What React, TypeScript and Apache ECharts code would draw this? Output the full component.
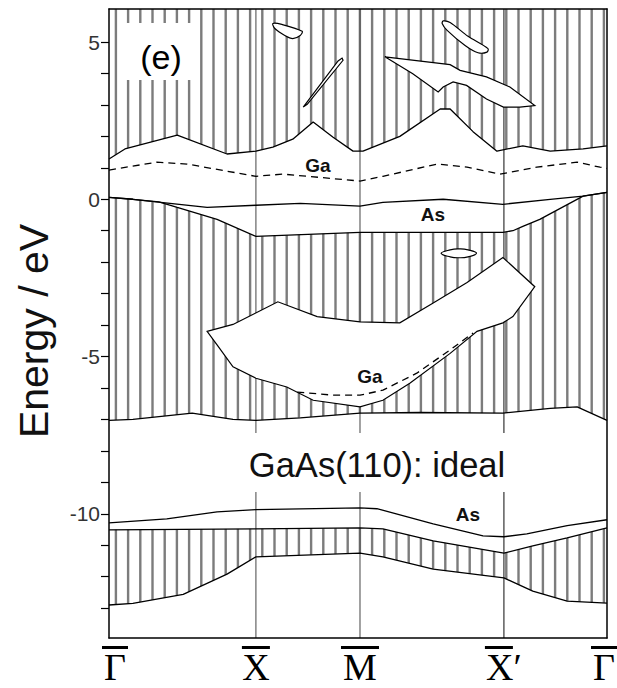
import { useEffect, useRef } from 'react';
import * as echarts from 'echarts';

// ---- axes ----
const Y_MIN = -13.95;
const Y_MAX = 6.05;
const kPoints = [0, 2.95, 5.04, 7.93, 10];
const kLabels = ['Γ', 'X', 'M', 'X′', 'Γ'];
const yTickValues = [-13, -12, -11, -10, -9, -8, -7, -6, -5, -4, -3, -2, -1, 0, 1, 2, 3, 4, 5];
const yLabelValues = [-10, -5, 0, 5];

// ---- projected bulk band edges ----
const cbBottom = [[0, 1.28], [0.32, 1.6], [1.37, 2.04], [2.37, 1.44], [2.95, 1.53], [3.29, 1.66], [3.69, 1.91], [4.10, 2.46], [4.50, 1.97], [4.90, 1.53], [5.10, 1.53], [5.84, 2.0], [6.65, 2.87], [6.85, 2.87], [7.31, 2.15], [7.79, 1.53], [8.31, 1.70], [8.86, 1.53], [9.52, 1.60], [10, 1.70]];
const vbTop = [[0, 0.06], [0.48, 0.0], [1.0, -0.08], [1.37, -0.26], [2.17, -0.64], [2.95, -1.18], [5.04, -1.05], [7.91, -1.05], [8.11, -1.0], [8.31, -0.86], [8.65, -0.64], [9.52, 0.10], [10, 0.22]];
const vbBottom = [[0, -7.03], [0.48, -7.0], [1.67, -6.8], [2.49, -7.0], [2.95, -7.03], [3.84, -6.95], [5.04, -6.8], [6.24, -6.78], [7.91, -6.8], [8.86, -6.65], [9.40, -6.6], [10, -7.03]];
const deepTop = [[0, -10.51], [2.95, -10.48], [5.04, -10.45], [5.50, -10.48], [6.51, -10.86], [7.93, -11.25], [8.51, -11.02], [9.20, -10.77], [10, -10.45]];
const deepBottom = [[0, -12.9], [0.48, -12.85], [1.49, -12.56], [2.37, -11.92], [2.95, -11.37], [5.04, -11.25], [5.50, -11.37], [6.51, -11.76], [7.93, -12.04], [8.51, -12.46], [9.20, -12.78], [10, -12.84]];

// ---- gaps (pockets) inside bulk continua ----
const gaPocket = [[1.97, -4.2], [2.49, -3.98], [3.39, -3.26], [4.18, -3.73], [5.04, -3.9], [5.84, -3.93], [6.51, -3.3], [7.19, -2.65], [7.91, -1.85], [8.55, -2.78], [8.11, -3.73], [7.91, -3.93], [7.39, -4.2], [6.85, -4.9], [6.04, -5.85], [5.50, -6.39], [5.04, -6.6], [4.10, -6.39], [3.57, -5.97], [2.95, -5.69], [2.49, -5.33], [2.17, -4.63]];
const vbEllipse = [[6.67, -1.72], [6.85, -1.61], [7.03, -1.58], [7.21, -1.61], [7.38, -1.72], [7.21, -1.83], [7.03, -1.86], [6.85, -1.83]];
const cbPocketA = [[3.29, 5.59], [3.47, 5.56], [3.88, 5.34], [3.84, 5.21], [3.69, 5.11], [3.53, 5.21], [3.33, 5.43]];
const cbPocketB = [[3.90, 2.93], [4.60, 4.40], [4.68, 4.49], [4.70, 4.42], [3.98, 3.02]];
const cbPocketC = [[6.71, 5.67], [6.85, 5.62], [7.21, 5.18], [7.61, 4.79], [7.59, 4.68], [7.41, 4.66], [7.15, 4.89], [6.79, 5.37], [6.69, 5.59]];
const cbPocketD = [[5.54, 4.53], [6.85, 4.28], [7.05, 4.10], [7.58, 3.89], [8.05, 3.57], [8.55, 2.98], [8.25, 2.93], [7.92, 2.93], [7.58, 3.19], [7.18, 3.62], [6.91, 3.73], [6.71, 3.57], [6.61, 3.41], [6.10, 3.99]];

// ---- surface states ----
const gaUpper = [[0, 0.93], [0.96, 1.18], [1.57, 1.12], [2.95, 0.73], [3.49, 0.8], [5.04, 0.58], [5.50, 0.73], [6.59, 1.12], [7.19, 1.02], [7.85, 0.8], [8.59, 1.02], [9.40, 1.18], [9.86, 1.02], [10, 0.98]];
const asUpper = [[0, 0.06], [0.48, 0.0], [1.97, -0.26], [2.95, -0.19], [3.84, -0.13], [5.04, -0.22], [5.50, -0.10], [6.71, 0.0], [7.91, -0.16], [8.86, 0.0], [9.52, 0.10], [10, 0.22]];
const gaLower = [[3.78, -6.13], [4.5, -6.23], [5.04, -6.23], [5.50, -6.07], [6.18, -5.53], [6.85, -4.79], [7.31, -4.25]];
const asLower = [[0, -10.29], [1.16, -10.16], [2.17, -9.94], [2.95, -9.87], [5.04, -9.81], [5.38, -9.84], [6.51, -10.32], [7.51, -10.70], [7.93, -10.73], [8.39, -10.64], [9.20, -10.38], [10, -10.19]];

const SANS = '"Liberation Sans", Arial, Helvetica, sans-serif';
const SERIF = '"Liberation Serif", "Times New Roman", serif';

export default function App() {
  const ref = useRef<HTMLDivElement>(null);

  useEffect(() => {
    if (!ref.current) return;
    const tile = document.createElement('canvas');
    tile.width = 61;
    tile.height = 10;
    const ctx = tile.getContext('2d')!;
    ctx.fillStyle = '#7c7c7c';
    for (let i = 0; i < 5; i++) ctx.fillRect(6.1 + 12.2 * i - 1.2, 0, 2.4, 10);
    const hatch: any = { image: tile, repeat: 'repeat', x: 4.1, y: 0 };

    const chart = echarts.init(ref.current, null, { renderer: 'svg' });

    const cbRegion = [...cbBottom, [10, Y_MAX], [0, Y_MAX]];
    const vbRegion = [...vbTop, ...vbBottom.slice().reverse()];
    const deepRegion = [...deepTop, ...deepBottom.slice().reverse()];

    const polygonSeries = (pts: number[][], style: any, z: number, smooth = 0) => ({
      type: 'custom',
      data: pts,
      encode: { x: 0, y: 1 },
      silent: true,
      z,
      renderItem: (params: any, api: any) => {
        if (params.dataIndex !== 0) return null;
        return {
          type: 'polygon',
          shape: { points: pts.map((p) => api.coord(p)), smooth },
          style,
        };
      },
    });
    const lineSeries = (pts: number[][], dashed = false) => ({
      type: 'line',
      data: pts,
      symbol: 'none',
      silent: true,
      z: 4,
      lineStyle: { color: '#000', width: 1.3, type: dashed ? [7, 5] : 'solid' },
    });
    const pocketStyle = { fill: '#fff', stroke: '#000', lineWidth: 1.2 };
    const symLines = kPoints.slice(1, 4).map((k) => [k, 0]);

    const axisLineStyle = { color: '#000', width: 1.5 };
    const barStyle = (w: number) => ({ width: w, height: 3, lineHeight: 9, backgroundColor: '#000' });

    const option: any = {
      animation: false,
      backgroundColor: '#fff',
      grid: { left: 109, right: 10, top: 9, bottom: 50, containLabel: false, outerBoundsMode: 'none' },
      xAxis: [
        {
          type: 'value', min: 0, max: 10, z: 10,
          axisLine: { show: true, onZero: false, lineStyle: axisLineStyle },
          axisTick: { show: false },
          splitLine: { show: false },
          axisLabel: {
            customValues: kPoints,
            margin: 5,
            hideOverlap: false,
            formatter: (v: number) => {
              const i = kPoints.indexOf(v);
              const lab = kLabels[i];
              if (i === 0) return `{sp0|}{bar0|}\n{sp0|}{t|${lab}}`;
              if (i === 3) return `{bar3|}{spP|}\n{t|${lab}}`;
              if (i === 4) return `{bar4|}{spR|}\n{t|${lab}}{spR|}`;
              return `{bar${i}|}\n{t|${lab}}`;
            },
            rich: {
              sp0: { width: 12, height: 3, lineHeight: 9 },
              spP: { width: 10, height: 3, lineHeight: 9 },
              spR: { width: 6, height: 3, lineHeight: 9 },
              bar0: barStyle(26),
              bar1: barStyle(28),
              bar2: barStyle(38),
              bar3: barStyle(28),
              bar4: barStyle(26),
              t: { fontFamily: SERIF, fontSize: 38, lineHeight: 29, color: '#000' },
            },
          },
        },
        {
          type: 'value', position: 'top', min: 0, max: 10, z: 10,
          axisLine: { show: true, onZero: false, lineStyle: axisLineStyle },
          axisTick: { show: false }, axisLabel: { show: false }, splitLine: { show: false },
        },
      ],
      yAxis: [
        {
          type: 'value', min: Y_MIN, max: Y_MAX, z: 10,
          axisLine: { show: true, onZero: false, lineStyle: axisLineStyle },
          axisTick: { show: true, customValues: yTickValues, length: 8, inside: false, lineStyle: { color: '#000', width: 1.2 } },
          axisLabel: {
            customValues: yLabelValues,
            formatter: (v: number) => String(v),
            fontSize: 21, color: '#333', margin: 9, fontFamily: SANS,
          },
          splitLine: { show: false },
          name: 'Energy / eV',
          nameLocation: 'middle',
          nameGap: 55,
          nameTextStyle: { fontSize: 41, fontFamily: SANS, color: '#111', padding: [0, 15, 0, 0] },
        },
        {
          type: 'value', position: 'right', min: Y_MIN, max: Y_MAX, z: 10,
          axisLine: { show: true, onZero: false, lineStyle: axisLineStyle },
          axisTick: { show: false }, axisLabel: { show: false }, splitLine: { show: false },
        },
      ],
      series: [
        polygonSeries(cbRegion, { fill: hatch, stroke: null }, 1),
        polygonSeries(vbRegion, { fill: hatch, stroke: null }, 1),
        polygonSeries(deepRegion, { fill: hatch, stroke: null }, 1),
        {
          type: 'custom',
          data: symLines,
          encode: { x: 0, y: 1 },
          silent: true,
          z: 2,
          renderItem: (params: any, api: any) => {
            const k = api.value(0);
            const a = api.coord([k, Y_MAX]);
            const b = api.coord([k, Y_MIN]);
            return {
              type: 'line',
              shape: { x1: a[0], y1: a[1], x2: b[0], y2: b[1] },
              style: { stroke: params.dataIndex === 2 ? '#222' : '#555', lineWidth: 1.1 },
            };
          },
        },
        polygonSeries(gaPocket, pocketStyle, 3),
        polygonSeries(vbEllipse, pocketStyle, 3, 0.5),
        polygonSeries(cbPocketA, pocketStyle, 3, 0.3),
        polygonSeries(cbPocketB, pocketStyle, 3),
        polygonSeries(cbPocketC, pocketStyle, 3, 0.3),
        polygonSeries(cbPocketD, pocketStyle, 3),
        lineSeries(cbBottom),
        lineSeries(vbTop),
        lineSeries(vbBottom),
        lineSeries(deepTop),
        lineSeries(deepBottom),
        lineSeries(asUpper),
        lineSeries(asLower),
        lineSeries(gaUpper, true),
        lineSeries(gaLower, true),
      ],
      graphic: [
        { type: 'rect', z: 20, shape: { x: 125, y: 23, width: 73, height: 57 }, style: { fill: '#fff' } },
        { type: 'text', z: 21, x: 161, y: 57, style: { text: '(e)', fontSize: 34, fontFamily: SANS, fill: '#000', align: 'center', verticalAlign: 'middle', textAlign: 'center', textVerticalAlign: 'middle' } },
        { type: 'text', z: 21, x: 318, y: 165, style: { text: 'Ga', fontSize: 19, fontWeight: 'bold', fontFamily: SANS, fill: '#111', align: 'center', verticalAlign: 'middle', textAlign: 'center', textVerticalAlign: 'middle' } },
        { type: 'text', z: 21, x: 433, y: 214, style: { text: 'As', fontSize: 19, fontWeight: 'bold', fontFamily: SANS, fill: '#111', align: 'center', verticalAlign: 'middle', textAlign: 'center', textVerticalAlign: 'middle' } },
        { type: 'text', z: 21, x: 370, y: 376, style: { text: 'Ga', fontSize: 19, fontWeight: 'bold', fontFamily: SANS, fill: '#111', align: 'center', verticalAlign: 'middle', textAlign: 'center', textVerticalAlign: 'middle' } },
        { type: 'text', z: 21, x: 468, y: 514, style: { text: 'As', fontSize: 19, fontWeight: 'bold', fontFamily: SANS, fill: '#111', align: 'center', verticalAlign: 'middle', textAlign: 'center', textVerticalAlign: 'middle' } },
        { type: 'rect', z: 20, shape: { x: 248, y: 433, width: 262, height: 59 }, style: { fill: '#fff' } },
        { type: 'text', z: 21, x: 377, y: 465, style: { text: 'GaAs(110): ideal', fontSize: 34.5, fontFamily: SANS, fill: '#111', align: 'center', verticalAlign: 'middle', textAlign: 'center', textVerticalAlign: 'middle' } },
      ],
    };

    chart.setOption(option);
    return () => chart.dispose();
  }, []);

  return <div ref={ref} style={{ position: 'fixed', left: 0, top: 0, width: 617, height: 688 }} />;
}
